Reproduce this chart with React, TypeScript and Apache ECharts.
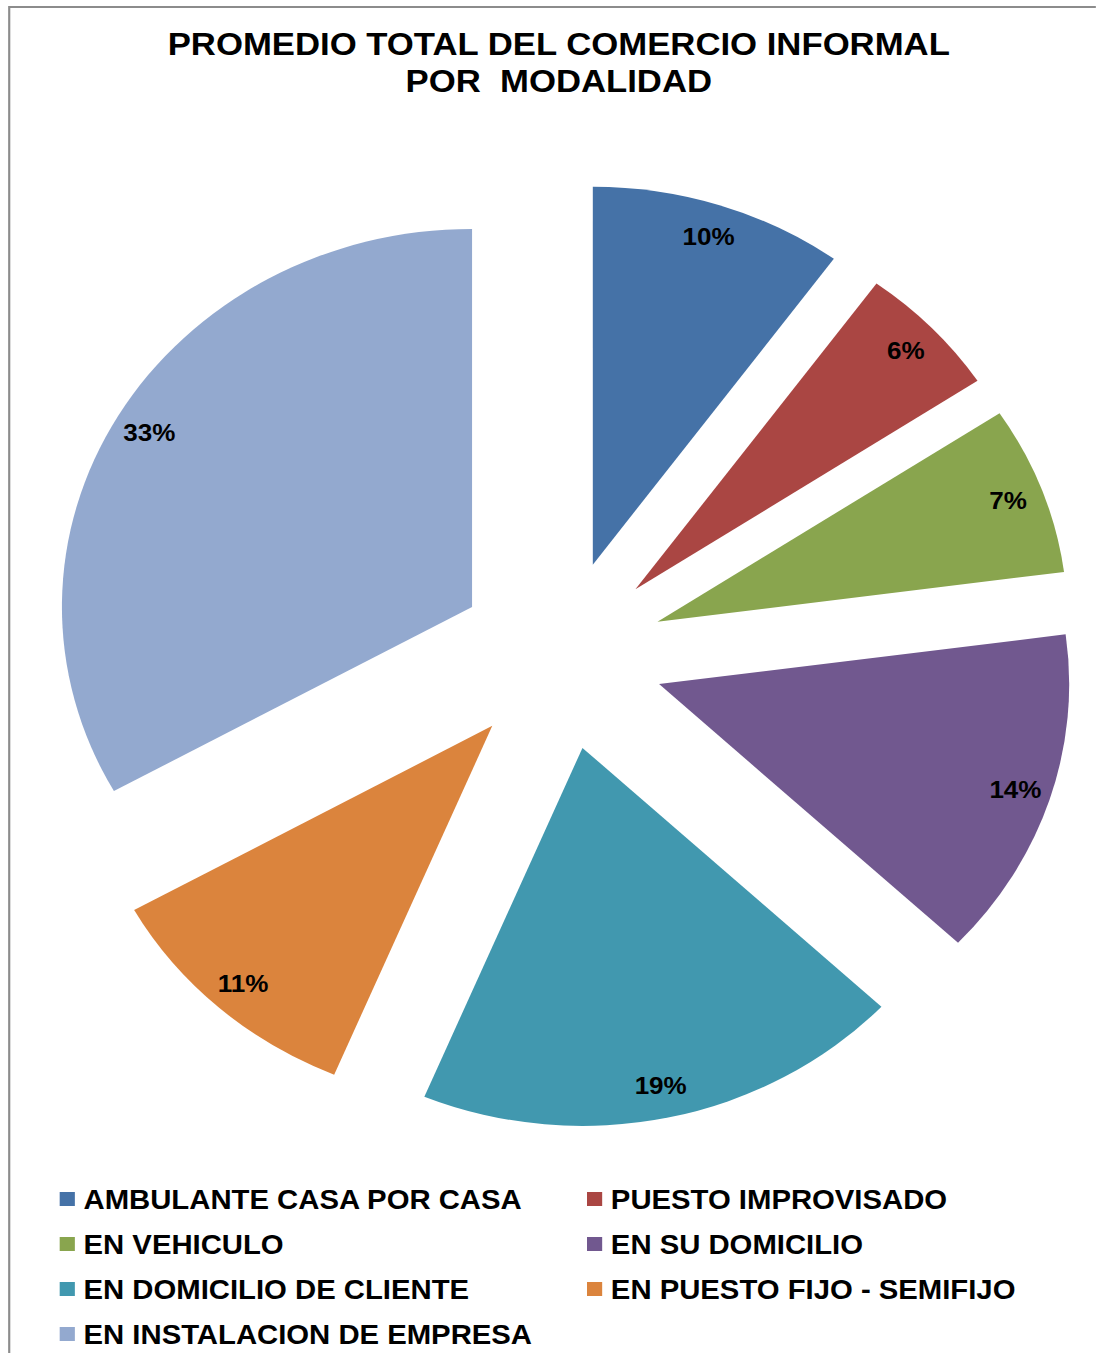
import React, { useEffect, useRef } from "react";
import * as echarts from "echarts";

const TITLE_LINES = ["PROMEDIO TOTAL DEL COMERCIO INFORMAL", "POR  MODALIDAD"];
const categories = [
  "AMBULANTE CASA POR CASA",
  "PUESTO IMPROVISADO",
  "EN VEHICULO",
  "EN SU DOMICILIO",
  "EN DOMICILIO DE CLIENTE",
  "EN PUESTO FIJO - SEMIFIJO",
  "EN INSTALACION DE EMPRESA",
];
const values = [10.0, 5.7, 7.2, 14.1, 19.3, 10.6, 33.1];
const colors = ["#4572A7", "#AA4643", "#89A54E", "#71588F", "#4198AF", "#DB843D", "#93A9CF"];

const FONT = "'Liberation Sans', Arial, Helvetica, sans-serif";
const STRETCH = 1.085;
const BASE_W = 1010;
const BASE_H = 1353;

export default function App() {
  const ref = useRef<HTMLDivElement>(null);

  useEffect(() => {
    if (!ref.current) return;
    const chart = echarts.init(ref.current, null, { renderer: "svg" });

    const pieData = categories.map((name, i) => ({
      name,
      value: values[i],
      selected: true,
      itemStyle: { color: colors[i] },
    }));
    const labelData = categories.map((name, i) => ({
      name,
      value: values[i],
      selected: true,
    }));

    const leftNames = categories.filter((_, i) => i % 2 === 0);
    const rightNames = categories.filter((_, i) => i % 2 === 1);

    const legendBase = {
      orient: "vertical" as const,
      top: 1185,
      padding: 0,
      itemWidth: 14,
      itemHeight: 14,
      itemGap: 17,
      icon: "rect",
      selectedMode: false,
      textStyle: {
        fontSize: 27,
        fontWeight: "bold" as const,
        color: "#000",
        fontFamily: FONT,
        lineHeight: 28,
        padding: [0, 0, 0, 3],
      },
    };

    chart.setOption({
      animation: false,
      backgroundColor: "#ffffff",
      graphic: [
        {
          type: "rect",
          silent: true,
          shape: { x: 8.5, y: 7, width: 1100, height: 1400 },
          style: { fill: "none", stroke: "#8c8c8c", lineWidth: 2 },
        },
        {
          type: "text",
          x: 515,
          y: 25,
          silent: true,
          style: {
            text: TITLE_LINES.join("\n"),
            align: "center",
            verticalAlign: "top",
            textAlign: "center",
            textVerticalAlign: "top",
            fontSize: 32,
            fontWeight: "bold",
            fontFamily: FONT,
            lineHeight: 37,
            fill: "#000",
          },
        },
      ],
      legend: [
        { ...legendBase, left: 55, data: leftNames },
        { ...legendBase, left: 541, data: rightNames },
      ],
      series: [
        {
          type: "pie",
          center: [517, 655],
          radius: [0, 378],
          startAngle: 90,
          clockwise: true,
          selectedMode: "multiple",
          selectedOffset: 95,
          label: { show: false },
          labelLine: { show: false },
          emphasis: { disabled: true },
          silent: true,
          data: pieData,
        },
        {
          type: "pie",
          center: [517, 655],
          radius: [306, 378],
          startAngle: 90,
          clockwise: true,
          selectedMode: "multiple",
          selectedOffset: 95,
          itemStyle: { color: "rgba(0,0,0,0)" },
          label: {
            show: true,
            position: "inside",
            formatter: (p: any) => Math.round(p.percent) + "%",
            fontSize: 24,
            fontWeight: "bold",
            fontFamily: FONT,
            color: "#000",
          },
          labelLine: { show: false },
          emphasis: { disabled: true },
          silent: true,
          data: labelData,
        },
      ],
    });

    return () => chart.dispose();
  }, []);

  return (
    <div
      style={{
        position: "absolute",
        left: 0,
        top: 0,
        width: BASE_W * STRETCH,
        height: BASE_H,
        overflow: "hidden",
        background: "#fff",
      }}
    >
      <div
        ref={ref}
        style={{
          width: BASE_W,
          height: BASE_H,
          transform: `scaleX(${STRETCH})`,
          transformOrigin: "0 0",
        }}
      />
    </div>
  );
}
